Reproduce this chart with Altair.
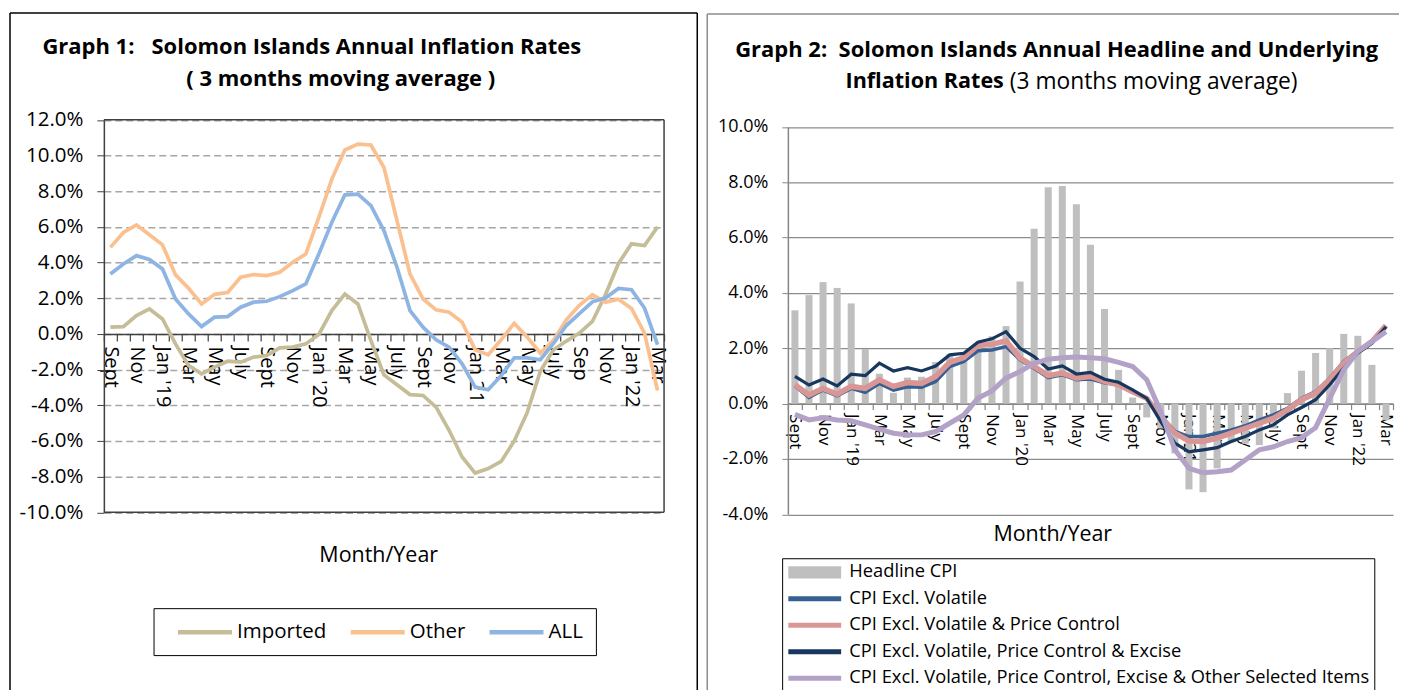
import json
import altair as alt
import pandas as pd

FONT = "Open Sans"

# ---------------- data ----------------
g1_labels = ["Sept", "", "Nov", "", "Jan '19", "", "Mar", "", "May", "", "July", "",
             "Sept", "", "Nov", "", "Jan '20", "", "Mar", "", "May", "", "July", "",
             "Sept", "", "Nov", "", "Jan 21", "", "Mar", "", "May", "", "July", "",
             "Sep", "", "Nov", "", "Jan '22", "", "Mar"]
g2_labels = ["Sept", "", "Nov", "", "Jan '19", "", "Mar", "", "May", "", "July", "",
             "Sept", "", "Nov", "", "Jan '20", "", "Mar", "", "May", "", "July", "",
             "Sept", "", "Nov", "", "Jan 21", "", "Mar", "", "May", "", "July", "",
             "Sept", "", "Nov", "", "Jan '22", "", "Mar"]

g1_series = ["Imported", "Other", "ALL"]
imported = [0.38, 0.41, 1.03, 1.40, 0.84, -0.56, -1.77, -2.24, -1.86, -1.53, -1.58, -1.30,
            -1.21, -0.78, -0.74, -0.56, -0.03, 1.31, 2.24, 1.68, -0.37, -2.30, -2.85, -3.40,
            -3.45, -4.10, -5.40, -6.90, -7.80, -7.55, -7.15, -6.00, -4.40, -2.10, -0.90, -0.40,
            0.05, 0.70, 2.20, 3.95, 5.05, 4.95, 6.00]
other = [4.85, 5.69, 6.11, 5.56, 4.99, 3.31, 2.56, 1.68, 2.22, 2.32, 3.18, 3.33,
         3.27, 3.46, 4.02, 4.48, 6.54, 8.68, 10.31, 10.64, 10.59, 9.33, 6.35, 3.36,
         1.96, 1.35, 1.22, 0.66, -0.89, -1.17, -0.33, 0.60, -0.18, -1.08, -0.37, 0.79,
         1.60, 2.20, 1.78, 1.95, 1.43, 0.05, -3.17]
all_items = [3.36, 3.92, 4.39, 4.17, 3.64, 1.96, 1.12, 0.41, 0.94, 0.97, 1.50, 1.78,
             1.83, 2.09, 2.43, 2.80, 4.48, 6.26, 7.80, 7.84, 7.19, 5.79, 3.74, 1.31,
             0.38, -0.33, -0.74, -1.68, -2.98, -3.13, -2.33, -1.34, -1.34, -1.45, -0.55, 0.47,
             1.14, 1.80, 2.01, 2.55, 2.48, 1.45, -0.60]

g2_series = ["Headline CPI",
             "CPI Excl. Volatile",
             "CPI Excl. Volatile & Price Control",
             "CPI Excl. Volatile, Price Control & Excise",
             "CPI Excl. Volatile, Price Control, Excise & Other Selected Items"]
headline = [3.37, 3.92, 4.39, 4.18, 3.62, 1.97, 1.08, 0.39, 0.94, 0.97, 1.50, 1.78,
            1.83, 2.09, 2.43, 2.80, 4.41, 6.32, 7.82, 7.86, 7.20, 5.74, 3.42, 1.22,
            0.22, -0.50, -0.90, -1.80, -3.10, -3.20, -2.34, -1.40, -1.45, -1.50, -0.90, 0.38,
            1.19, 1.83, 2.00, 2.52, 2.45, 1.40, -0.60]
excl_vol = [0.64, 0.22, 0.49, 0.28, 0.55, 0.41, 0.73, 0.49, 0.61, 0.59, 0.80, 1.34,
            1.52, 1.91, 1.94, 2.06, 1.58, 1.28, 0.94, 1.04, 0.86, 0.89, 0.75, 0.68,
            0.45, 0.19, -0.45, -1.00, -1.19, -1.19, -1.07, -0.95, -0.80, -0.59, -0.41, -0.17,
            0.19, 0.43, 0.92, 1.52, 1.90, 2.27, 2.78]
excl_vol_pc = [0.68, 0.31, 0.55, 0.34, 0.62, 0.55, 0.86, 0.62, 0.76, 0.73, 0.98, 1.49,
               1.66, 2.10, 2.14, 2.27, 1.64, 1.34, 1.01, 1.10, 0.92, 0.98, 0.80, 0.68,
               0.43, 0.19, -0.47, -1.07, -1.35, -1.37, -1.25, -1.07, -0.89, -0.71, -0.53, -0.23,
               0.14, 0.38, 0.86, 1.46, 1.88, 2.24, 2.82]
excl_vol_pc_exc = [0.98, 0.67, 0.89, 0.64, 1.06, 1.01, 1.46, 1.18, 1.30, 1.18, 1.36, 1.76,
                   1.82, 2.22, 2.34, 2.60, 2.00, 1.70, 1.25, 1.36, 1.07, 1.13, 0.88, 0.77,
                   0.50, 0.19, -0.65, -1.43, -1.74, -1.67, -1.59, -1.37, -1.19, -0.95, -0.77, -0.41,
                   -0.14, 0.14, 0.68, 1.28, 1.82, 2.18, 2.78]
excl_all = [-0.39, -0.59, -0.51, -0.59, -0.62, -0.77, -0.92, -1.07, -1.13, -1.13, -1.01, -0.71,
            -0.41, 0.19, 0.46, 0.92, 1.16, 1.46, 1.60, 1.66, 1.68, 1.66, 1.62, 1.49,
            1.34, 0.86, -0.29, -1.67, -2.34, -2.50, -2.46, -2.40, -2.04, -1.67, -1.56, -1.37,
            -1.23, -0.87, 0.19, 1.22, 1.88, 2.24, 2.60]

g1_colors = ["#c4bd97", "#fac090", "#8eb4e3"]
g2_colors = ["#bfbfbf", "#376092", "#d99694", "#17375e", "#b3a2c7"]
g2_widths = [None, 3.5, 5.5, 3.2, 5.0]

NB = "\u00a0"

# ---------------- helpers ----------------
def long_df(series_names, arrays):
    rows = []
    for s, vals in zip(series_names, arrays):
        for i, v in enumerate(vals):
            rows.append({"idx": i, "series": s, "value": v})
    return pd.DataFrame(rows)


def label_expr(labels):
    return "[" + ",".join(json.dumps(l) for l in labels) + "][datum.value]"


PCT = "(datum.value < 0 ? '-' : '') + format(abs(datum.value), '.1f') + '%'"


def txt(text, x, y, size, weight="normal", align="center"):
    return alt.Chart(pd.DataFrame({"t": [text]})).mark_text(
        align=align, baseline="middle", fontSize=size, fontWeight=weight,
        font=FONT, color="black"
    ).encode(x=alt.value(x), y=alt.value(y), text="t:N")


def rule(xa, ya, xb, yb, color, w):
    return alt.Chart(pd.DataFrame({"a": [0]})).mark_rule(
        color=color, strokeWidth=w
    ).encode(x=alt.value(xa), x2=alt.value(xb), y=alt.value(ya), y2=alt.value(yb))


band = alt.Scale(type="band", paddingInner=0, paddingOuter=0)

# layout anchors (page pixels)
OY = 138.5           # plot-group origin (forced by an invisible top rule at -130)
OX1 = 102.75
OX2 = 785.75

# ---------------- Graph 1 ----------------
W1 = 561
TOP1, BOT1 = 119 - OY, 512 - OY
zero1 = TOP1 + (BOT1 - TOP1) * 12 / 22
off1 = -(BOT1 - zero1)

df1 = long_df(g1_series, [imported, other, all_items])

x1 = alt.X("idx:O", scale=band, bandPosition=0.5,
           axis=alt.Axis(title=None, labelExpr=label_expr(g1_labels), labelAngle=90,
                         labelAlign="left", labelBaseline="middle", tickBand="extent",
                         offset=off1, domainColor="#404040", tickColor="#404040",
                         domainWidth=1.5, tickWidth=1.2, tickSize=7, labelPadding=5,
                         labelFontSize=20, labelFont=FONT, labelColor="black",
                         labelOverlap=False, grid=False))
y1 = alt.Y("value:Q", scale=alt.Scale(domain=[-10, 12], nice=False, zero=False,
                                      range=[BOT1, TOP1]),
           axis=alt.Axis(title=None, values=list(range(-10, 13, 2)), labelExpr=PCT,
                         tickSize=7, labelPadding=14, labelFontSize=20.5, labelFont=FONT,
                         labelColor="black", gridDash=[7, 4], gridColor="#a6a6a6",
                         gridWidth=1.5, domainColor="#404040", tickColor="#404040",
                         domainWidth=1.5))

lines1 = alt.Chart(df1).mark_line(strokeWidth=3.7).encode(
    x=x1, y=y1,
    color=alt.Color("series:N", sort=g1_series,
                    scale=alt.Scale(domain=g1_series, range=g1_colors),
                    legend=alt.Legend(title=None, orient="none", legendX=152.5 - OX1,
                                      legendY=608 - OY, direction="horizontal",
                                      strokeColor="black", fillColor="white", padding=12.5,
                                      symbolOffset=27.5, symbolType="M-3,0H3",
                                      symbolSize=324, symbolStrokeWidth=4.5,
                                      labelFontSize=20.5, labelFont=FONT, labelColor="black",
                                      columnPadding=12, labelOffset=20.6, gridAlign="none")),
)

panel1 = alt.layer(
    lines1,
    rule(0, TOP1, W1, TOP1, "#404040", 1.5),
    rule(W1, TOP1, W1, BOT1, "#404040", 1.5),
    rule(0, BOT1, W1, BOT1, "#404040", 1.5),
    txt("Graph 1:" + NB + NB + " Solomon Islands Annual Inflation Rates", 311 - OX1, 46 - OY, 22, "bold"),
    txt("( 3 months moving average )", 340 - OX1, 78 - OY, 22, "bold"),
    txt("Month/Year", 378 - OX1, 556 - OY, 21.5),
    rule(0, -130, 10, -130, "white", 1),
    rule(-94, 12 - OY, 697 - OX1, 12 - OY, "black", 1.5),
    rule(-94, 12 - OY, -94, 600, "black", 1.5),
    rule(697 - OX1, 12 - OY, 697 - OX1, 600, "black", 1.5),
).properties(width=W1, height=BOT1,
             view=alt.ViewBackground(stroke="transparent"))

# ---------------- Graph 2 ----------------
W2 = 606
TOP2, BOT2 = 126 - OY, 514 - OY
zero2 = TOP2 + (BOT2 - TOP2) * 10 / 14
off2 = -(BOT2 - zero2)

axis_x2 = alt.Axis(title=None, labelExpr=label_expr(g2_labels), labelAngle=90,
                   labelAlign="left", labelBaseline="middle", tickBand="extent",
                   offset=off2, domainColor="#868686", tickColor="#868686",
                   domainWidth=1.5, tickWidth=1.2, tickSize=6, labelPadding=4,
                   labelFontSize=17, labelFont=FONT, labelColor="black",
                   labelOverlap=False, grid=False)
x2_bar = alt.X("idx:O", scale=band, axis=axis_x2)
x2_line = alt.X("idx:O", scale=band, bandPosition=0.5, axis=axis_x2)
y2 = alt.Y("value:Q", scale=alt.Scale(domain=[-4, 10], nice=False, zero=False,
                                      range=[BOT2, TOP2]),
           axis=alt.Axis(title=None, values=list(range(-4, 11, 2)), labelExpr=PCT,
                         tickSize=6, labelPadding=14, labelFontSize=18, labelFont=FONT,
                         labelColor="black", gridColor="#8c8c8c", gridWidth=1.3,
                         domainColor="#868686", tickColor="#868686", domainWidth=1.5))

shape_expr = ("datum.value == 'Headline CPI' ? 'M-2.94,-0.67H2.94V0.67H-2.94Z' "
              ": 'M-2.94,-0.28H2.94V0.28H-2.94Z'")
color2 = alt.Color("series:N", sort=g2_series,
                   scale=alt.Scale(domain=g2_series, range=g2_colors),
                   legend=alt.Legend(title=None, orient="none", legendX=780 - OX2,
                                     legendY=558 - OY, direction="vertical",
                                     strokeColor="black", fillColor="white", padding=5,
                                     symbolOffset=18.5, symbolSize=324,
                                     symbolType=alt.ExprRef(expr=shape_expr),
                                     symbolStrokeWidth=0, labelFontSize=18.3, labelFont=FONT,
                                     labelColor="black", labelOffset=25.5, rowPadding=7.5,
                                     labelLimit=0))

series_arrays = [headline, excl_vol, excl_vol_pc, excl_vol_pc_exc, excl_all]
df_head = long_df([g2_series[0]], [headline])
bars2 = alt.Chart(df_head).mark_bar(width=alt.RelativeBandSize(0.5)).encode(
    x=x2_bar, y=y2, color=color2)

layers2 = [bars2]
for s, vals, w in zip(g2_series[1:], series_arrays[1:], g2_widths[1:]):
    layers2.append(
        alt.Chart(long_df([s], [vals])).mark_line(strokeWidth=w).encode(
            x=x2_line, y=y2, color=color2)
    )

panel2 = alt.layer(
    *layers2,
    txt("Graph 2:" + NB + " Solomon Islands Annual Headline and Underlying", 1055 - OX2, 49 - OY, 22, "bold"),
    txt("Inflation Rates", 1002 - OX2, 81 - OY, 21.6, "bold", "right"),
    txt("(3 months moving average)", 1008 - OX2, 81 - OY, 22.8, "normal", "left"),
    txt("Month/Year", 1051 - OX2, 535 - OY, 21.5),
    rule(0, -130, 10, -130, "white", 1),
    rule(705 - OX2, 13 - OY, 612, 13 - OY, "#8c8c8c", 1.5),
    rule(705 - OX2, 13 - OY, 705 - OX2, 600, "#8c8c8c", 1.5),
).properties(width=W2, height=BOT2,
             view=alt.ViewBackground(stroke="transparent"))

chart = alt.hconcat(panel1, panel2, spacing=7).resolve_scale(
    x="independent", y="independent", color="independent"
).resolve_legend(color="independent").configure(
    font=FONT, padding={"left": 0, "top": 0, "right": 0, "bottom": 0}
)

chart.save("out.html", embed_options={"renderer": "svg", "actions": False})
